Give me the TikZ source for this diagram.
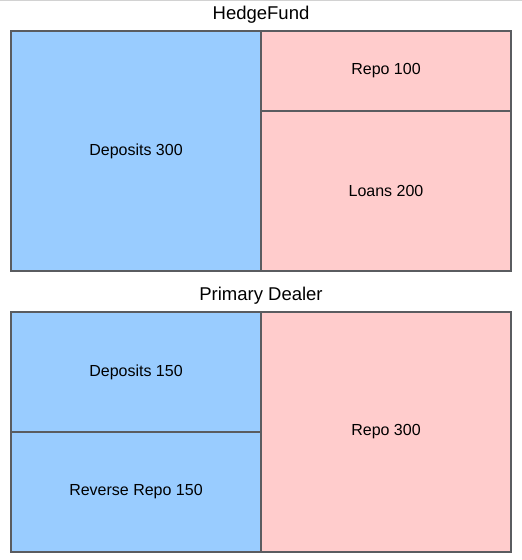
\documentclass[tikz,border=0pt]{standalone}
\usepackage{fontspec}
\setmainfont{Liberation Sans}
\usepackage{xcolor}
\usepackage{tikz}
\usetikzlibrary{positioning}
\definecolor{assetblue}{HTML}{99CCFF}
\definecolor{liabpink}{HTML}{FFCCCC}
\definecolor{edgegray}{HTML}{5A5C60}
\tikzset{cell/.style={draw=edgegray,line width=1.2pt,minimum width=250pt,inner sep=0pt,outer sep=0pt,font=\fontsize{16}{19}\selectfont},
  asset/.style={cell,fill=assetblue},
  liab/.style={cell,fill=liabpink},
  bstitle/.style={font=\fontsize{18.5}{22}\selectfont}}

\begin{document}
\begin{tikzpicture}[x=1pt,y=-1pt]
\useasboundingbox (0,0) rectangle (522,560);
\draw[gray!35,line width=1.5pt] (0,0.5) -- (522,0.5);
% HedgeFund balance sheet
\node[bstitle] (hftitle) at (261,15) {HedgeFund};
\node[asset,minimum height=240pt,anchor=north west] (hfdep) at (11,31) {Deposits 300};
\node[liab,minimum height=80pt,anchor=north west] (hfrepo) at (261,31) {Repo 100};
\node[liab,minimum height=160pt,below=0pt of hfrepo] (hfloan) {Loans 200};
% Primary Dealer balance sheet
\node[bstitle] (pdtitle) at (261,296) {Primary Dealer};
\node[asset,minimum height=120pt,anchor=north west] (pddep) at (11,312) {Deposits 150};
\node[asset,minimum height=120pt,below=0pt of pddep] (pdrev) {Reverse Repo 150};
\node[liab,minimum height=240pt,anchor=north west] (pdrepo) at (261,312) {Repo 300};
\end{tikzpicture}
\end{document}
